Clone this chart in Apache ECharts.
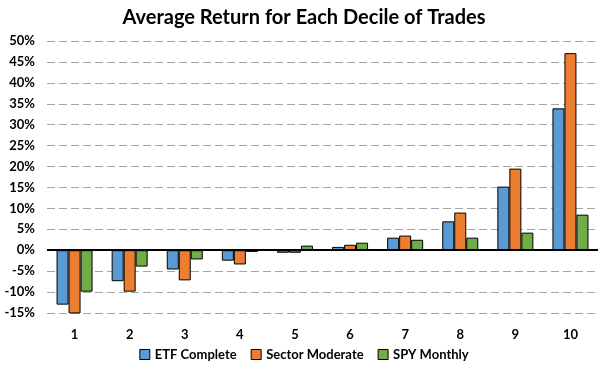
<!DOCTYPE html>
<html>
<head>
<meta charset="utf-8">
<script src="https://cdn.jsdelivr.net/npm/echarts@6/dist/echarts.min.js"></script>
<style>
  html, body { margin: 0; padding: 0; background: #fff; }
  #chart { width: 608px; height: 377px; }
</style>
</head>
<body>
<div id="chart"></div>
<script>
// deciles
var deciles = ['1', '2', '3', '4', '5', '6', '7', '8', '9', '10'];

// average return (%) per decile
var etfComplete    = [-13.0, -7.4, -4.6, -2.5, -0.6, 0.8, 3.0, 6.9, 15.2, 33.9];
var sectorModerate = [-15.1, -9.9, -7.2, -3.4, -0.6, 1.3, 3.5, 9.0, 19.5, 47.1];
var spyMonthly     = [-9.9, -3.9, -2.2, -0.4, 1.1, 1.8, 2.5, 3.0, 4.2, 8.5];

var font = 'Lato, "Open Sans", sans-serif';

var chartDom = document.getElementById('chart');
var myChart = echarts.init(chartDom);

function barSeries(name, data, color) {
    return {
        name: name,
        type: 'bar',
        data: data,
        barWidth: 12,
        barGap: '0%',
        itemStyle: {
            color: color,
            borderColor: '#000',
            borderWidth: 1
        }
    };
}

var series = [
    barSeries('ETF Complete', etfComplete, '#5B9BD5'),
    barSeries('Sector Moderate', sectorModerate, '#ED7D31'),
    barSeries('SPY Monthly', spyMonthly, '#70AD47')
];

// zero line across the plot
series[0].markLine = {
    silent: true,
    symbol: 'none',
    label: { show: false },
    lineStyle: { color: '#000', width: 2, type: 'solid' },
    data: [{ yAxis: 0 }]
};

var option = {
    animation: false,
    textStyle: { fontFamily: font },
    title: {
        text: 'Average Return for Each Decile of Trades',
        left: 'center',
        top: 3,
        textStyle: { fontFamily: font, fontSize: 20, fontWeight: 'bold', color: '#000' }
    },
    legend: {
        bottom: 11,
        left: 'center',
        itemWidth: 10,
        itemHeight: 10,
        itemGap: 14,
        icon: 'rect',
        itemStyle: { borderColor: '#000', borderWidth: 1 },
        textStyle: { fontFamily: font, fontSize: 13, fontWeight: 'bold', color: '#000' },
        data: ['ETF Complete', 'Sector Moderate', 'SPY Monthly']
    },
    grid: {
        left: 47,
        right: 10,
        top: 41,
        bottom: 64
    },
    xAxis: {
        type: 'category',
        data: deciles,
        axisLine: { show: false, onZero: false },
        axisTick: { show: false },
        axisLabel: {
            margin: 15,
            fontFamily: font,
            fontSize: 13,
            fontWeight: 'bold',
            color: '#000'
        }
    },
    yAxis: {
        type: 'value',
        min: -15,
        max: 50,
        interval: 5,
        axisLine: { show: false },
        axisTick: { show: false },
        axisLabel: {
            formatter: '{value}%',
            margin: 12,
            fontFamily: font,
            fontSize: 13,
            fontWeight: 'bold',
            color: '#000'
        },
        splitLine: {
            lineStyle: { color: '#A6A6A6', width: 1, type: [8, 4] }
        }
    },
    series: series
};

option && myChart.setOption(option);
</script>
</body>
</html>
